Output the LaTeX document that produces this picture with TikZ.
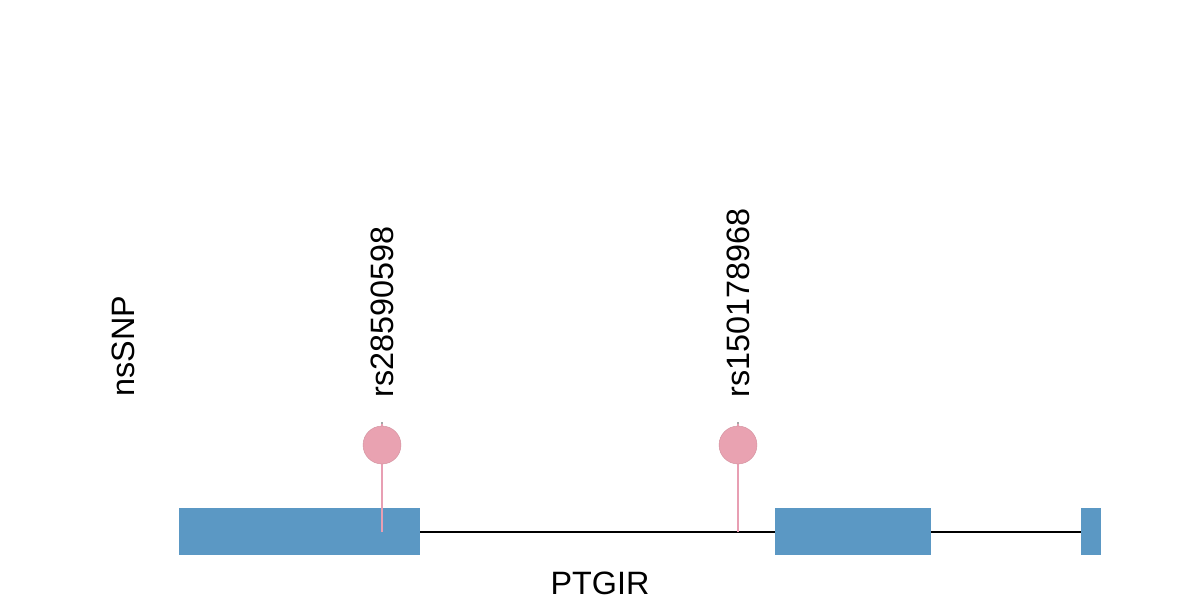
\documentclass[tikz,border=0pt]{standalone}
\usepackage{fontspec}
\setmainfont{Liberation Sans}
\definecolor{exonblue}{HTML}{5B98C4}
\definecolor{snppink}{HTML}{E9A2B1}
\definecolor{stempink}{HTML}{E89FB3}
\begin{document}
\begin{tikzpicture}[x=0.025cm,y=0.025cm,
  exon/.style={fill=exonblue,draw=none},
  intron/.style={draw=black,line width=1.2pt},
  stem/.style={draw=stempink,line width=1.3pt},
  head/.style={circle,fill=snppink,draw=snppink!90!black,line width=0.3pt,minimum size=38*0.025cm,inner sep=0pt},
  lbl/.style={font=\fontsize{23}{23}\selectfont,inner sep=0pt}]
\useasboundingbox (0,0) rectangle (1200,600);
% introns
\coordinate (i1a) at (420,68);
\coordinate (i1b) at (775,68);
\coordinate (i2a) at (931,68);
\coordinate (i2b) at (1081,68);
\draw[intron] (i1a) -- (i1b);
\draw[intron] (i2a) -- (i2b);
% exons
\path[exon] (179,45) rectangle (420,92);
\path[exon] (775,45) rectangle (931,92);
\path[exon] (1081,45) rectangle (1101,92);
% SNP 1
\coordinate (s1b) at (382,68);
\coordinate (s1t) at (382,176);
\draw[stem] (s1b) -- (s1t);
\draw[gray!70,line width=0.8pt] (s1t) -- ++(0,2);
\node[head] (h1) at (382,155) {};
\node[lbl,rotate=90,anchor=west] (l1) at (382,202) {rs28590598};
% SNP 2
\coordinate (s2b) at (738,68);
\coordinate (s2t) at (738,176);
\draw[stem] (s2b) -- (s2t);
\draw[gray!70,line width=0.8pt] (s2t) -- ++(0,2);
\node[head] (h2) at (738,155) {};
\node[lbl,rotate=90,anchor=west] (l2) at (738,202) {rs150178968};
% labels
\node[lbl,rotate=90] (track) at (123,254) {nsSNP};
\node[lbl] (gene) at (600,17) {PTGIR};
\end{tikzpicture}
\end{document}
